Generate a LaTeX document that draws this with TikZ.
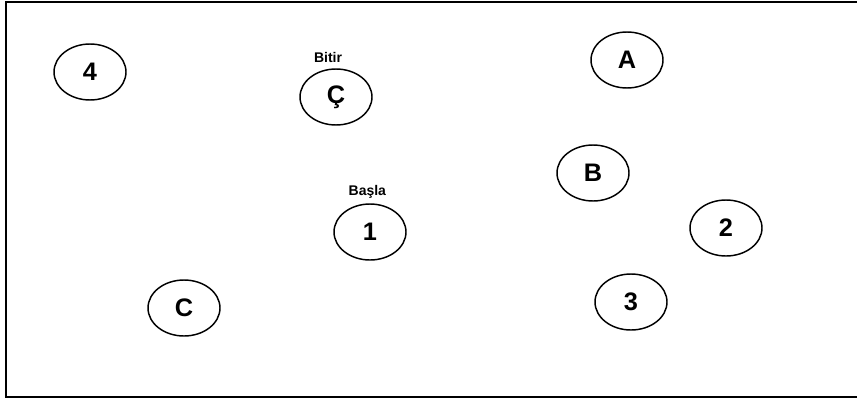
\documentclass[tikz,border=0pt]{standalone}
\usepackage{fontspec}
\setmainfont{Liberation Sans}
\usetikzlibrary{shapes.geometric,positioning}

\begin{document}
\begin{tikzpicture}[x=0.75pt, y=-0.75pt,
  every node/.style={font=\bfseries},
  stop/.style={ellipse, draw, line width=1.1pt, inner sep=0pt,
    minimum width=54pt, minimum height=42pt, font=\fontsize{19}{21}\selectfont\bfseries},
  tag/.style={font=\fontsize{10.5}{12}\selectfont\bfseries}]
  \useasboundingbox (0,0) rectangle (857,400);

  % Frame
  \draw[line width=1.5pt] (857,2) -- (6,2) -- (6,397) -- (857,397);

  % Stops
  \node[stop] (s4) at (90,72) {4};
  \node[stop] (sc) at (336,97) {Ç};
  \node[stop] (sa) at (627,60) {A};
  \node[stop] (sb) at (593,173) {B};
  \node[stop] (s1) at (370,232) {1};
  \node[stop] (s2) at (726,228) {2};
  \node[stop] (sC) at (184,308) {C};
  \node[stop] (s3) at (631,302) {3};

  % Labels
  \node[tag, above=1pt of sc, xshift=-6pt] (bitir) {Bitir};
  \node[tag, above=0pt of s1, xshift=-2pt] (basla) {Başla};
\end{tikzpicture}
\end{document}
